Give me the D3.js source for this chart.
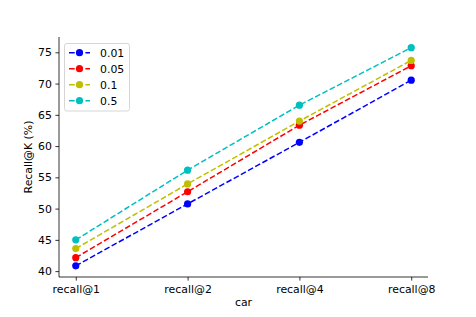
<!DOCTYPE html>
<html>
<head>
<meta charset="utf-8">
<script src="https://cdn.jsdelivr.net/npm/d3@7"></script>
<style>
  body { margin: 0; background: white; }
  text { font-family: "DejaVu Sans", sans-serif; }
</style>
</head>
<body>
<div id="chart"></div>
<script>
// data
var categories = ["recall@1", "recall@2", "recall@4", "recall@8"];
var seriesNames = ["0.01", "0.05", "0.1", "0.5"];
var seriesColors = ["#0000ff", "#ff0000", "#bfbf00", "#00bfbf"];
var vals001 = [40.85, 50.75, 60.6, 70.55];
var vals005 = [42.15, 52.7, 63.35, 72.85];
var vals01 = [43.6, 53.95, 64.0, 73.7];
var vals05 = [45.0, 56.15, 66.55, 75.75];
var yTicks = [40, 45, 50, 55, 60, 65, 70, 75];

var series = [vals001, vals005, vals01, vals05];

var w = 476, h = 317;
var plotL = 59, plotR = 428, plotT = 37, plotB = 277;
var fs = "10.9px";

var svg = d3.select("#chart").append("svg").attr("width", w).attr("height", h);

var x = d3.scaleLinear().domain([-0.15, 3.15]).range([plotL, plotR]);
var y = d3.scaleLinear().domain([39.06, 77.45]).range([plotB, plotT]);

/* axes */
var xAxis = d3.axisBottom(x).tickValues([0, 1, 2, 3])
    .tickFormat(function(d) { return categories[d]; })
    .tickSize(3.6).tickPadding(4.5);
var yAxis = d3.axisLeft(y).tickValues(yTicks).tickSize(3.6).tickPadding(3.5);

var gx = svg.append("g").attr("transform", "translate(0," + plotB + ")").call(xAxis);
var gy = svg.append("g").attr("transform", "translate(" + plotL + ",0)").call(yAxis);
[gx, gy].forEach(function(g) {
    g.select(".domain").attr("stroke", "black").attr("stroke-width", 0.8);
    g.selectAll(".tick line").attr("stroke", "black").attr("stroke-width", 0.8);
    g.selectAll(".tick text").attr("fill", "black").attr("font-size", fs)
        .attr("font-family", "DejaVu Sans");
});
gx.select(".domain").attr("d", "M" + plotL + ",0H" + plotR);
gy.select(".domain").attr("d", "M0," + plotB + "V" + plotT);

/* axis labels */
svg.append("text").attr("x", (plotL + plotR) / 2).attr("y", 305.5)
    .attr("text-anchor", "middle").attr("font-size", fs).text("car");
svg.append("text").attr("transform", "translate(31.5," + ((plotT + plotB) / 2) + ") rotate(-90)")
    .attr("text-anchor", "middle").attr("font-size", fs).text("Recall@K (%)");

/* lines and markers */
var line = d3.line().x(function(d, i) { return x(i); }).y(function(d) { return y(d); });
series.forEach(function(vals, k) {
    svg.append("path").datum(vals).attr("d", line)
        .attr("fill", "none").attr("stroke", seriesColors[k])
        .attr("stroke-width", 1.5).attr("stroke-dasharray", "5.7,2.5");
    svg.selectAll(null).data(vals).enter().append("circle")
        .attr("cx", function(d, i) { return x(i); })
        .attr("cy", function(d) { return y(d); })
        .attr("r", 3.6).attr("fill", seriesColors[k]);
});

/* legend */
var lg = svg.append("g");
lg.append("rect").attr("x", 64.5).attr("y", 43.5).attr("width", 65).attr("height", 67.5)
    .attr("rx", 2.5).attr("fill", "white").attr("fill-opacity", 0.8)
    .attr("stroke", "#cccccc").attr("stroke-width", 0.8);
seriesNames.forEach(function(name, k) {
    var ly = 52.7 + k * 16;
    lg.append("line").attr("x1", 69).attr("x2", 90).attr("y1", ly).attr("y2", ly)
        .attr("stroke", seriesColors[k]).attr("stroke-width", 1.5).attr("stroke-dasharray", "5.7,2.5");
    lg.append("circle").attr("cx", 79.5).attr("cy", ly).attr("r", 3.6).attr("fill", seriesColors[k]);
    lg.append("text").attr("x", 100).attr("y", ly).attr("dy", "0.35em")
        .attr("font-size", fs).text(name);
});
</script>
</body>
</html>
